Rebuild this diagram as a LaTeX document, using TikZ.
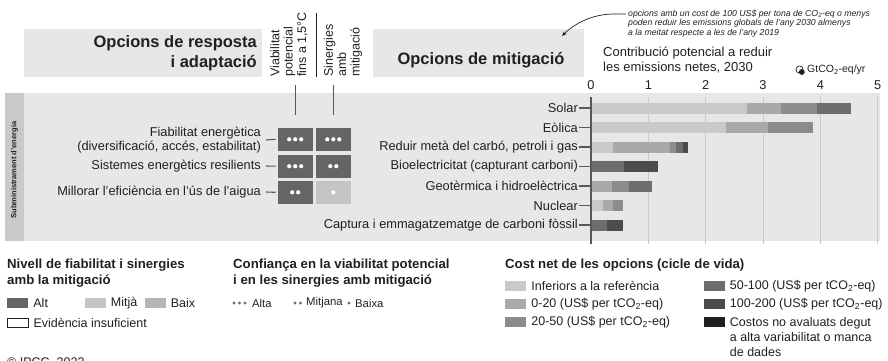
\documentclass[tikz,border=0pt]{standalone}
\usepackage{fontspec}
\setmainfont{Liberation Sans}
\usetikzlibrary{arrows.meta,positioning}
\definecolor{ink}{HTML}{231F20}
\definecolor{panel}{HTML}{E6E7E8}
\definecolor{strip}{HTML}{C8C9CA}
\definecolor{gridgray}{HTML}{C8C9CA}
\definecolor{axisgray}{HTML}{58585A}
\definecolor{dotgray}{HTML}{6D6E70}
\definecolor{alt}{HTML}{656567}
\definecolor{mitja}{HTML}{C3C4C6}
\definecolor{baix}{HTML}{B5B6B8}
\definecolor{costa}{HTML}{C8C9CA}
\definecolor{costb}{HTML}{A8A9AB}
\definecolor{costc}{HTML}{8B8C8E}
\definecolor{costd}{HTML}{6C6D6F}
\definecolor{coste}{HTML}{4B4C4E}
\definecolor{costf}{HTML}{231F20}
\newcommand{\lblfont}{\fontsize{12.8}{14}\selectfont}
\newcommand{\keyfont}{\fontsize{12.5}{14}\selectfont}
\newcommand{\smallkeyfont}{\fontsize{11.3}{13}\selectfont}
\newcommand{\hdrfont}{\fontsize{16.5}{20}\selectfont\bfseries}
\newcommand{\colfont}{\fontsize{12.5}{13.3}\selectfont}
\newcommand{\sectfont}{\fontsize{7.5}{9}\selectfont\bfseries}
\newcommand{\notefont}{\fontsize{8.7}{9.7}\selectfont\itshape}
\newcommand{\ctitlefont}{\fontsize{13}{15}\selectfont}
\newcommand{\unitfont}{\fontsize{10.5}{12}\selectfont}
\newcommand{\legtitle}{\fontsize{13.2}{16}\selectfont\bfseries}
\newcommand{\celldots}[2]{\foreach \k in {1,...,#2}{\fill[white] ([xshift={(\k-(#2+1)/2)*6pt}]#1.center) circle (2.1);}}
\begin{document}
\begin{tikzpicture}[x=1pt,y=-1pt,
  every node/.style={inner sep=0pt,text=ink,font=\lblfont},
  hdrbox/.style={fill=panel,anchor=north west,minimum height=48pt},
  colhead/.style={rotate=90,anchor=west,align=left,font=\colfont},
  cell/.style={minimum width=35pt,minimum height=23pt},
  rowlbl/.style={anchor=east,align=right},
  barlbl/.style={anchor=east},
  tickln/.style={axisgray,line width=1.1pt},
  gridln/.style={gridgray,line width=1pt},
  swatch/.style={minimum width=21pt,minimum height=9.5pt},
  keytxt/.style={font=\keyfont}]
\useasboundingbox (0,0) rectangle (888,360);
\fill[panel] (5,93) rectangle (880,241);
\fill[strip] (5,93) rectangle (24,241);
\node[rotate=90,font=\sectfont] (sector) at (14.5,170) {Subministrament d’energia};
\node[hdrbox,minimum width=238pt] (hdrL) at (24,29) {};
\node[anchor=east,align=right,font=\hdrfont] (hdrLtxt) at (257,53) {Opcions de resposta\\i adaptació};
\node[hdrbox,minimum width=211pt] (hdrR) at (373,29) {};
\node[font=\hdrfont] (hdrRtxt) at (481,60) {Opcions de mitigació};
\node[colhead] (colA) at (289,77) {Viabilitat\\potencial\\fins a 1,5°C};
\node[colhead] (colB) at (343,77) {Sinergies\\amb\\mitigació};
\draw[ink,line width=0.8pt] (316,13) -- (316,77);
\node[cell,fill=alt] (a1) at (295.2,139.3) {};
\node[cell,fill=alt] (b1) at (333.3,139.3) {};
\node[cell,fill=alt] (a2) at (295.2,166.2) {};
\node[cell,fill=alt] (b2) at (333.3,166.2) {};
\node[cell,fill=alt] (a3) at (295.2,192.3) {};
\node[cell,fill=mitja] (b3) at (333.3,192.3) {};
\celldots{a1}{3}
\celldots{b1}{3}
\celldots{a2}{3}
\celldots{b2}{2}
\celldots{a3}{2}
\celldots{b3}{1}
\draw[tickln] ([yshift=13pt]a1.north) -- ([yshift=43pt]a1.north);
\draw[tickln] ([yshift=13pt]b1.north) -- ([yshift=43pt]b1.north);
\node[rowlbl] (o1) at (261,140) {Fiabilitat energètica\\(diversificació, accés, estabilitat)};
\node[rowlbl] (o2) at (261,166) {Sistemes energètics resilients};
\node[rowlbl] (o3) at (261,192) {Millorar l’eficiència en l’ús de l’aigua};
\foreach \i in {1,2,3} \draw[tickln] ([xshift=5pt]o\i.east) -- ([xshift=-2pt]a\i.west);
\node[anchor=west,align=left,font=\notefont] (note) at (628,23.5) {opcions amb un cost de 100 US\$ per tona de CO\textsubscript{2}-eq o menys\\poden reduir les emissions globals de l’any 2030 almenys\\a la meitat respecte a les de l’any 2019};
\coordinate (nstart) at (626,14);
\coordinate (tip) at (562,36);
\draw[ink,line width=0.7pt,-{Stealth[length=5pt,width=4pt]}] (nstart) -- ++(-12,0) .. controls +(-22,0) and +(12,-12) .. (tip);
\node[anchor=west,align=left,font=\ctitlefont] (ctitle) at (603,60.5) {Contribució potencial a reduir\\les emissions netes, 2030};
\draw[ink,line width=0.7pt] (799.5,69.5) circle (3.6);
\fill[ink] (801.8,72) circle (2.9);
\node[anchor=west,font=\unitfont] (unit) at (807,70) {GtCO\textsubscript{2}-eq/yr};
\begin{scope}[shift={(591,0)},x=57.33pt]
\foreach \i in {1,...,5} \draw[gridln] (\i,97) -- (\i,244);
\foreach \i in {0,...,5} \node (t\i) at (\i,85) {\i};
\coordinate (axis) at (0,0);
\fill[costa] (0,102.5) rectangle (2.716,113.5);
\fill[costb] (2.716,102.5) rectangle (3.31,113.5);
\fill[costc] (3.31,102.5) rectangle (3.94,113.5);
\fill[costd] (3.94,102.5) rectangle (4.53,113.5);
\fill[costa] (0,122) rectangle (2.355,133);
\fill[costb] (2.355,122) rectangle (3.08,133);
\fill[costc] (3.08,122) rectangle (3.87,133);
\fill[costa] (0,141.5) rectangle (0.38,152.5);
\fill[costb] (0.38,141.5) rectangle (1.37,152.5);
\fill[costc] (1.37,141.5) rectangle (1.48,152.5);
\fill[costd] (1.48,141.5) rectangle (1.6,152.5);
\fill[coste] (1.6,141.5) rectangle (1.69,152.5);
\fill[costd] (0,161) rectangle (0.576,172);
\fill[coste] (0.576,161) rectangle (1.17,172);
\fill[costb] (0,180.5) rectangle (0.366,191.5);
\fill[costc] (0.366,180.5) rectangle (0.663,191.5);
\fill[costd] (0.663,180.5) rectangle (1.064,191.5);
\fill[costa] (0,200) rectangle (0.21,211);
\fill[costb] (0.21,200) rectangle (0.384,211);
\fill[costc] (0.384,200) rectangle (0.558,211);
\fill[costd] (0,219.5) rectangle (0.279,230.5);
\fill[coste] (0.279,219.5) rectangle (0.558,230.5);
\draw[tickln] (0,97) -- (0,244);
\end{scope}
\node[barlbl] (m1) at (578,108) {Solar};
\node[barlbl] (m2) at (578,127.5) {Eòlica};
\node[barlbl] (m3) at (578,147) {Reduir metà del carbó, petroli i gas};
\node[barlbl] (m4) at (578,166.5) {Bioelectricitat (capturant carboni)};
\node[barlbl] (m5) at (578,186) {Geotèrmica i hidroelèctrica};
\node[barlbl] (m6) at (578,205.5) {Nuclear};
\node[barlbl] (m7) at (578,225) {Captura i emmagatzematge de carboni fòssil};
\foreach \i in {1,...,7} \draw[tickln] ([xshift=1pt]m\i.east) -- (m\i.east -| axis);
\node[anchor=west,align=left,font=\legtitle] (lgA) at (7,273) {Nivell de fiabilitat i sinergies\\amb la mitigació};
\node[swatch,fill=alt] (sAlt) at (17.5,303) {};
\node[keytxt,right=5pt of sAlt] (tAlt) {Alt};
\node[swatch,fill=mitja] (sMit) at (95,303) {};
\node[keytxt,right=5pt of sMit] (tMit) {Mitjà};
\node[swatch,fill=baix] (sBaix) at (155,303) {};
\node[keytxt,right=5pt of sBaix] (tBaix) {Baix};
\node[swatch,draw=ink,line width=0.6pt] (sNone) at (17.5,323) {};
\node[keytxt,right=5pt of sNone] (tNone) {Evidència insuficient};
\node[keytxt,anchor=west] (copy) at (7,363) {© IPCC, 2022};
\node[anchor=west,align=left,font=\legtitle] (lgB) at (233,273) {Confiança en la viabilitat potencial\\i en les sinergies amb mitigació};
\foreach \x in {234,239.5,245} \fill[dotgray] (\x,303) circle (1.6);
\node[anchor=west,font=\smallkeyfont] (tAlta) at (252,303) {Alta};
\foreach \x in {295,300.5} \fill[dotgray] (\x,303) circle (1.6);
\node[anchor=west,font=\smallkeyfont] (tMitjana) at (306,303) {Mitjana};
\fill[dotgray] (349,303) circle (1.6);
\node[anchor=west,font=\smallkeyfont] (tBaixa) at (355,303) {Baixa};
\node[anchor=west,font=\legtitle] (lgC) at (505,265) {Cost net de les opcions (cicle de vida)};
\node[swatch,fill=costa] (c1) at (515.5,286) {};
\node[keytxt,right=5pt of c1] (tc1) {Inferiors a la referència};
\node[swatch,fill=costb] (c2) at (515.5,304) {};
\node[keytxt,right=5pt of c2] (tc2) {0-20 (US\$ per tCO\textsubscript{2}-eq)};
\node[swatch,fill=costc] (c3) at (515.5,322) {};
\node[keytxt,right=5pt of c3] (tc3) {20-50 (US\$ per tCO\textsubscript{2}-eq)};
\node[swatch,fill=costd] (c4) at (714,286) {};
\node[keytxt,right=5pt of c4] (tc4) {50-100 (US\$ per tCO\textsubscript{2}-eq)};
\node[swatch,fill=coste] (c5) at (714,304) {};
\node[keytxt,right=5pt of c5] (tc5) {100-200 (US\$ per tCO\textsubscript{2}-eq)};
\node[swatch,fill=costf] (c6) at (714,322) {};
\node[anchor=north west,align=left,font=\fontsize{12.5}{15}\selectfont] (tc6) at ([xshift=5pt]c6.north east) {Costos no avaluats degut\\a alta variabilitat o manca\\de dades};
\end{tikzpicture}
\end{document}
